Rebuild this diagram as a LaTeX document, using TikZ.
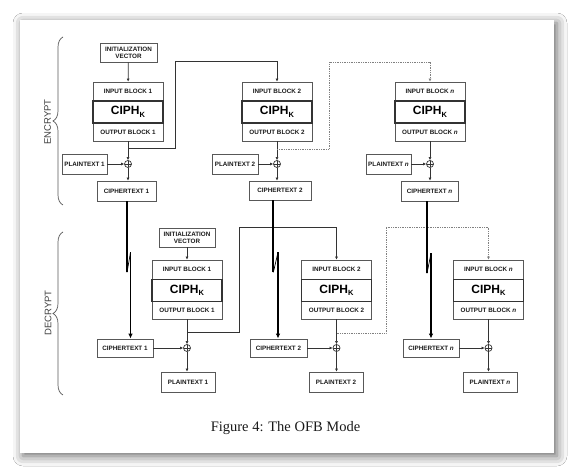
\documentclass[tikz,border=0pt]{standalone}
\usepackage{fontspec}
\setmainfont{Liberation Serif}
\setsansfont{Liberation Sans}
\usetikzlibrary{shadows.blur,decorations.pathreplacing,arrows.meta,calc}
\definecolor{lngray}{HTML}{333333}
\definecolor{boxgray}{HTML}{585858}
\definecolor{txt}{HTML}{1A1A1A}
\definecolor{labgray}{HTML}{404040}
\begin{document}
\begin{tikzpicture}[x=1pt,y=-1pt,
  box/.style={draw=boxgray, line width=0.8pt, fill=white, inner sep=0pt,
    font=\sffamily\bfseries\fontsize{6.3}{7}\selectfont, text=txt, align=center},
  cbox/.style={draw=lngray, line width=1.1pt, fill=white, inner sep=0pt, minimum width=70, minimum height=22,
    font=\sffamily\bfseries\fontsize{12}{14}\selectfont, text=black},
  ibox/.style={box, minimum width=70, minimum height=19},
  obox/.style={box, minimum width=70, minimum height=18},
  ln/.style={draw=lngray, line width=0.75pt},
  arr/.style={ln, -{Latex[length=3pt,width=3pt]}},
  dotln/.style={draw=gray, line width=0.75pt, densely dotted, -{Latex[length=3pt,width=3pt]}},
  thk/.style={draw=black, line width=1.8pt},
  thkarr/.style={draw=black, line width=1.8pt, -{Latex[length=5pt,width=4.5pt]}},
  zig/.style={draw=black, line width=0.7pt},
  xor/.style={circle, draw=lngray, line width=0.7pt, minimum size=7pt, inner sep=0pt, fill=white,
    path picture={\draw[lngray,line width=0.6pt] (path picture bounding box.north) -- (path picture bounding box.south)
      (path picture bounding box.west) -- (path picture bounding box.east);}},
  brc/.style={draw=boxgray, line width=0.7pt, decorate, decoration={brace, amplitude=10pt}},
  side/.style={rotate=90, font=\sffamily\fontsize{9.5}{10}\selectfont, text=labgray}
]
\newcommand{\ciph}{CIPH\raisebox{-2.5pt}{\fontsize{7.5}{8}\selectfont K}}
% page and shadow
\fill[white] (0,0) rectangle (574,473);
\path[fill=white, blur shadow={shadow xshift=3pt, shadow yshift=-3pt, shadow blur radius=10pt, shadow opacity=60}] (20,20) rectangle (554,453);

% braces and side labels
\draw[brc] (63,205) -- (63,37);
\draw[brc] (63,395) -- (63,232);
\node[side] (enc) at (47.5,122) {ENCRYPT};
\node[side] (dec) at (48,313) {DECRYPT};

% ===== ENCRYPT =====
\node[box, minimum width=57, minimum height=19] (iv1) at (128.5,52.5) {INITIALIZATION\\VECTOR};
\node[ibox] (ib1) at (128,91.5) {INPUT BLOCK 1};
\node[obox] (ob1) at (128,132) {OUTPUT BLOCK 1};
\node[cbox] (ck1) at (128,112) {\ciph};
\node[ibox] (ib2) at (277,91.5) {INPUT BLOCK 2};
\node[obox] (ob2) at (277,132) {OUTPUT BLOCK 2};
\node[cbox] (ck2) at (277,112) {\ciph};
\node[ibox] (ibn) at (430,91.5) {INPUT BLOCK \textit{n}};
\node[obox] (obn) at (430,132) {OUTPUT BLOCK \textit{n}};
\node[cbox] (ckn) at (430,112) {\ciph};

\node[box, minimum width=45, minimum height=20] (p1) at (84.5,164) {PLAINTEXT 1};
\node[box, minimum width=46, minimum height=20] (p2) at (235,164) {PLAINTEXT 2};
\node[box, minimum width=45, minimum height=20] (pn) at (388.5,164) {PLAINTEXT \textit{n}};
\node[xor] (x1) at (128,164) {};
\node[xor] (x2) at (277,164) {};
\node[xor] (xn) at (430,164) {};
\node[box, minimum width=59, minimum height=20] (c1) at (126.5,191) {CIPHERTEXT 1};
\node[box, minimum width=62, minimum height=19] (c2) at (280,190.5) {CIPHERTEXT 2};
\node[box, minimum width=57, minimum height=20] (cn) at (429.5,191) {CIPHERTEXT \textit{n}};

\draw[arr] (iv1) -- (ib1);
\foreach \i in {1,2,n}{
  \draw[arr] (ob\i.south) -- (x\i.north);
  \draw[arr] (p\i.east) -- (x\i.west);
  \draw[arr] (x\i.south) -- (x\i |- c\i.north);
}
\coordinate (j1) at ($(ob1.south)+(0,7)$);
\coordinate (j2) at ($(ob2.south)+(0,8)$);
\draw[arr] (j1) -| (175,61) -| (ib2.north);
\draw[dotln] (j2) -| (329,62) -| (ibn.north);

% ===== DECRYPT =====
\node[box, minimum width=56, minimum height=19] (ivd) at (187,237.5) {INITIALIZATION\\VECTOR};
\node[ibox] (ibd1) at (187,269.5) {INPUT BLOCK 1};
\node[obox] (obd1) at (187,310) {OUTPUT BLOCK 1};
\node[cbox] (ckd1) at (187,290.5) {\ciph};
\node[ibox] (ibd2) at (336.5,269.5) {INPUT BLOCK 2};
\node[obox] (obd2) at (336.5,310) {OUTPUT BLOCK 2};
\node[cbox] (ckd2) at (336.5,290.5) {\ciph};
\node[ibox] (ibdn) at (488.5,269.5) {INPUT BLOCK \textit{n}};
\node[obox] (obdn) at (488.5,310) {OUTPUT BLOCK \textit{n}};
\node[cbox] (ckdn) at (488.5,290.5) {\ciph};

\node[xor] (xd1) at (187,348) {};
\node[xor] (xd2) at (336.5,348) {};
\node[xor] (xdn) at (488.5,348) {};
\node[box, minimum width=56, minimum height=18] (cd1) at (125,348) {CIPHERTEXT 1};
\node[box, minimum width=57, minimum height=18] (cd2) at (278.5,348) {CIPHERTEXT 2};
\node[box, minimum width=56, minimum height=18] (cdn) at (431,348) {CIPHERTEXT \textit{n}};
\node[box, minimum width=54, minimum height=20] (pd1) at (188,382) {PLAINTEXT 1};
\node[box, minimum width=54, minimum height=20] (pd2) at (336,382) {PLAINTEXT 2};
\node[box, minimum width=54, minimum height=20] (pdn) at (490,382) {PLAINTEXT \textit{n}};

\draw[arr] (ivd) -- (ibd1);
\foreach \i in {1,2,n}{
  \draw[arr] (obd\i.south) -- (xd\i.north);
  \draw[arr] (cd\i.east) -- (xd\i.west);
  \draw[arr] (xd\i.south) -- (xd\i |- pd\i.north);
}
\coordinate (jd1) at ($(obd1.south)+(0,13)$);
\coordinate (jd2) at ($(obd2.south)+(0,14)$);
\draw[arr] (jd1) -| (239,227) -| (ibd2.north);
\draw[dotln] (jd2) -| (386,227) -| (ibdn.north);

% ===== ciphertext transfer (thick, broken) =====
\draw[thk] ($(c1.south)+(0.5,0)$) -- ++(0,71) coordinate (u1);
\draw[zig] (u1) -- ++(3.5,-20) coordinate (l1);
\draw[thkarr] (l1) -- (l1 |- cd1.north);
\draw[thk] ($(c2.south)+(-6.7,0)$) -- ++(0,72) coordinate (u2);
\draw[zig] (u2) -- ++(4.7,-20) coordinate (l2);
\draw[thkarr] (l2) -- (l2 |- cd2.north);
\draw[thk] ($(cn.south)+(-2.5,0)$) -- ++(0,72) coordinate (un);
\draw[zig] (un) -- ++(4,-20) coordinate (ln);
\draw[thkarr] (ln) -- (ln |- cdn.north);

% caption
\node[font=\fontsize{14.5}{17}\selectfont, text=txt] (cap) at (285.5,428) {Figure 4: The OFB Mode};
\end{tikzpicture}
\end{document}
